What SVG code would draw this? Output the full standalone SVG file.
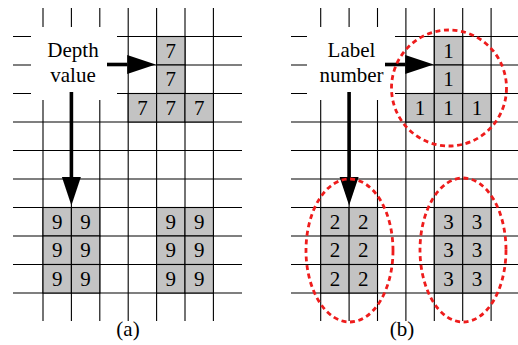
<svg xmlns="http://www.w3.org/2000/svg" width="518" height="345" viewBox="0 0 518 345">
<style>
.g line{stroke:#000;stroke-width:1.1}
.c{fill:#c3c3c3;stroke:#000;stroke-width:1.1}
text{font-family:'Liberation Serif','Times New Roman',Tinos,'DejaVu Serif',serif;font-size:21px;fill:#000;text-anchor:middle}
.a{stroke:#000;stroke-width:3.6;fill:none}
.e{fill:none;stroke:#ee1c1c;stroke-width:2.8;stroke-dasharray:5 3.6}
.box{fill:#fff}
</style>
<defs>
<marker id="ah" markerUnits="userSpaceOnUse" markerWidth="30" markerHeight="20" refX="0" refY="9.5" orient="auto" overflow="visible">
<path d="M0,0 L28.5,9.5 L0,19 Z" fill="#000"/>
</marker>
</defs>
<!-- grid (a) -->
<g id="grid-a" class="g">
<line x1="43" y1="8" x2="43" y2="321"/>
<line x1="71.4" y1="8" x2="71.4" y2="321"/>
<line x1="99.8" y1="8" x2="99.8" y2="321"/>
<line x1="128.2" y1="8" x2="128.2" y2="321"/>
<line x1="156.6" y1="8" x2="156.6" y2="321"/>
<line x1="185" y1="8" x2="185" y2="321"/>
<line x1="213.4" y1="8" x2="213.4" y2="321"/>
<line x1="13" y1="36.5" x2="242" y2="36.5"/>
<line x1="13" y1="65" x2="242" y2="65"/>
<line x1="13" y1="93.5" x2="242" y2="93.5"/>
<line x1="13" y1="122" x2="242" y2="122"/>
<line x1="13" y1="150.5" x2="242" y2="150.5"/>
<line x1="13" y1="179" x2="242" y2="179"/>
<line x1="13" y1="207.5" x2="242" y2="207.5"/>
<line x1="13" y1="236" x2="242" y2="236"/>
<line x1="13" y1="264.5" x2="242" y2="264.5"/>
<line x1="13" y1="293" x2="242" y2="293"/>
</g>
<!-- grid (b) -->
<g id="grid-b" class="g">
<line x1="320.7" y1="8" x2="320.7" y2="321"/>
<line x1="349.1" y1="8" x2="349.1" y2="321"/>
<line x1="377.5" y1="8" x2="377.5" y2="321"/>
<line x1="405.9" y1="8" x2="405.9" y2="321"/>
<line x1="434.3" y1="8" x2="434.3" y2="321"/>
<line x1="462.7" y1="8" x2="462.7" y2="321"/>
<line x1="491.1" y1="8" x2="491.1" y2="321"/>
<line x1="291" y1="36.5" x2="520" y2="36.5"/>
<line x1="291" y1="65" x2="520" y2="65"/>
<line x1="291" y1="93.5" x2="520" y2="93.5"/>
<line x1="291" y1="122" x2="520" y2="122"/>
<line x1="291" y1="150.5" x2="520" y2="150.5"/>
<line x1="291" y1="179" x2="520" y2="179"/>
<line x1="291" y1="207.5" x2="520" y2="207.5"/>
<line x1="291" y1="236" x2="520" y2="236"/>
<line x1="291" y1="264.5" x2="520" y2="264.5"/>
<line x1="291" y1="293" x2="520" y2="293"/>
</g>
<!-- label boxes -->
<g id="label-depth">
<rect class="box" x="31" y="27" width="86" height="73"/>
<text x="73" y="57">Depth</text>
<text x="73" y="82">value</text>
</g>
<g id="label-number">
<rect class="box" x="307" y="27" width="88" height="73"/>
<text x="351.5" y="57">Label</text>
<text x="351.5" y="82">number</text>
</g>
<!-- cells (a) -->
<g id="cells-7">
<rect class="c" x="156.6" y="36.5" width="28.4" height="28.5"/>
<rect class="c" x="156.6" y="65" width="28.4" height="28.5"/>
<rect class="c" x="128.2" y="93.5" width="28.4" height="28.5"/>
<rect class="c" x="156.6" y="93.5" width="28.4" height="28.5"/>
<rect class="c" x="185" y="93.5" width="28.4" height="28.5"/>
<text x="170.8" y="57.5">7</text>
<text x="170.8" y="86">7</text>
<text x="142.4" y="114.5">7</text>
<text x="170.8" y="114.5">7</text>
<text x="199.2" y="114.5">7</text>
</g>
<g id="cells-9a">
<rect class="c" x="43" y="207.5" width="28.4" height="28.5"/>
<rect class="c" x="71.4" y="207.5" width="28.4" height="28.5"/>
<rect class="c" x="43" y="236" width="28.4" height="28.5"/>
<rect class="c" x="71.4" y="236" width="28.4" height="28.5"/>
<rect class="c" x="43" y="264.5" width="28.4" height="28.5"/>
<rect class="c" x="71.4" y="264.5" width="28.4" height="28.5"/>
<text x="57.2" y="228.5">9</text>
<text x="85.6" y="228.5">9</text>
<text x="57.2" y="257">9</text>
<text x="85.6" y="257">9</text>
<text x="57.2" y="285.5">9</text>
<text x="85.6" y="285.5">9</text>
</g>
<g id="cells-9b">
<rect class="c" x="156.6" y="207.5" width="28.4" height="28.5"/>
<rect class="c" x="185" y="207.5" width="28.4" height="28.5"/>
<rect class="c" x="156.6" y="236" width="28.4" height="28.5"/>
<rect class="c" x="185" y="236" width="28.4" height="28.5"/>
<rect class="c" x="156.6" y="264.5" width="28.4" height="28.5"/>
<rect class="c" x="185" y="264.5" width="28.4" height="28.5"/>
<text x="170.8" y="228.5">9</text>
<text x="199.2" y="228.5">9</text>
<text x="170.8" y="257">9</text>
<text x="199.2" y="257">9</text>
<text x="170.8" y="285.5">9</text>
<text x="199.2" y="285.5">9</text>
</g>
<!-- cells (b) -->
<g id="cells-1">
<rect class="c" x="434.3" y="36.5" width="28.4" height="28.5"/>
<rect class="c" x="434.3" y="65" width="28.4" height="28.5"/>
<rect class="c" x="405.9" y="93.5" width="28.4" height="28.5"/>
<rect class="c" x="434.3" y="93.5" width="28.4" height="28.5"/>
<rect class="c" x="462.7" y="93.5" width="28.4" height="28.5"/>
<text x="448.5" y="57.5">1</text>
<text x="448.5" y="86">1</text>
<text x="420.1" y="114.5">1</text>
<text x="448.5" y="114.5">1</text>
<text x="476.9" y="114.5">1</text>
</g>
<g id="cells-2">
<rect class="c" x="320.7" y="207.5" width="28.4" height="28.5"/>
<rect class="c" x="349.1" y="207.5" width="28.4" height="28.5"/>
<rect class="c" x="320.7" y="236" width="28.4" height="28.5"/>
<rect class="c" x="349.1" y="236" width="28.4" height="28.5"/>
<rect class="c" x="320.7" y="264.5" width="28.4" height="28.5"/>
<rect class="c" x="349.1" y="264.5" width="28.4" height="28.5"/>
<text x="334.9" y="228.5">2</text>
<text x="363.3" y="228.5">2</text>
<text x="334.9" y="257">2</text>
<text x="363.3" y="257">2</text>
<text x="334.9" y="285.5">2</text>
<text x="363.3" y="285.5">2</text>
</g>
<g id="cells-3">
<rect class="c" x="434.3" y="207.5" width="28.4" height="28.5"/>
<rect class="c" x="462.7" y="207.5" width="28.4" height="28.5"/>
<rect class="c" x="434.3" y="236" width="28.4" height="28.5"/>
<rect class="c" x="462.7" y="236" width="28.4" height="28.5"/>
<rect class="c" x="434.3" y="264.5" width="28.4" height="28.5"/>
<rect class="c" x="462.7" y="264.5" width="28.4" height="28.5"/>
<text x="448.5" y="228.5">3</text>
<text x="476.9" y="228.5">3</text>
<text x="448.5" y="257">3</text>
<text x="476.9" y="257">3</text>
<text x="448.5" y="285.5">3</text>
<text x="476.9" y="285.5">3</text>
</g>
<!-- connectors -->
<g id="connectors">
<line class="a" x1="107" y1="64.5" x2="127.2" y2="64.5" marker-end="url(#ah)"/>
<line class="a" x1="71.4" y1="92" x2="71.4" y2="177" marker-end="url(#ah)"/>
<line class="a" x1="385" y1="64.5" x2="405.2" y2="64.5" marker-end="url(#ah)"/>
<line class="a" x1="349.1" y1="92" x2="349.1" y2="177" marker-end="url(#ah)"/>
</g>
<!-- clusters -->
<g id="clusters">
<ellipse class="e" cx="449" cy="88" rx="57.5" ry="58"/>
<ellipse class="e" cx="349.5" cy="250.5" rx="43.5" ry="71.5"/>
<ellipse class="e" cx="463" cy="250" rx="43" ry="72"/>
</g>
<text x="128" y="335.5">(a)</text>
<text x="402" y="335.5">(b)</text>
</svg>
